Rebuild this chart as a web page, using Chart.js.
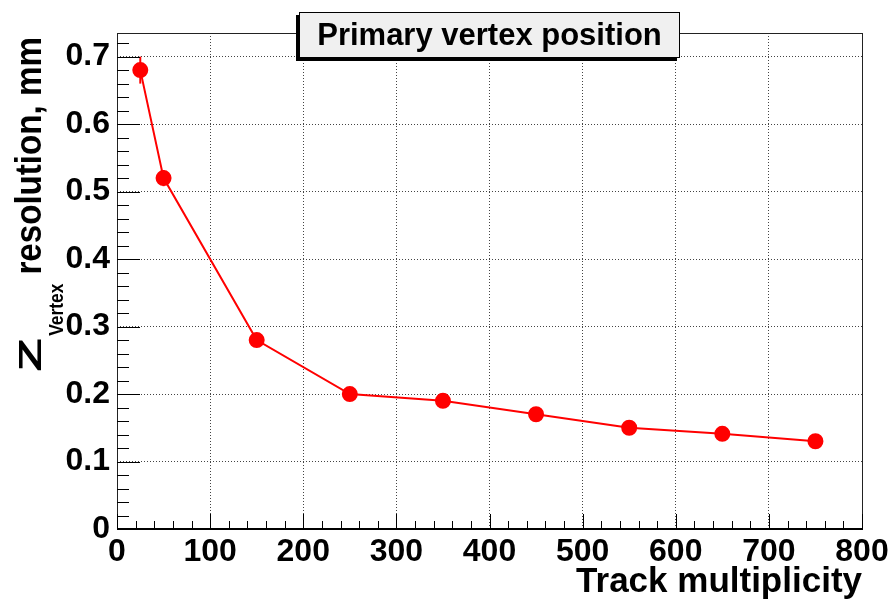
<!DOCTYPE html>
<html>
<head>
<meta charset="utf-8">
<script src="https://cdn.jsdelivr.net/npm/chart.js@4.4.1/dist/chart.umd.min.js"></script>
<style>
  html, body { margin: 0; padding: 0; background: #fff; }
  #wrap { width: 896px; height: 603px; }
</style>
</head>
<body>
<div id="wrap"><canvas id="myChart" width="896" height="603"></canvas></div>
<script>
(() => {
    'use strict'

    // Track multiplicity bins and Z vertex resolution (mm)
    const multiplicity = [25, 50, 150, 250, 350, 450, 550, 650, 750]
    const resolution = [0.68, 0.52, 0.28, 0.20, 0.19, 0.17, 0.15, 0.141, 0.13]
    const resolutionErr = [0.02, 0.012, 0.006, 0.005, 0.005, 0.005, 0.005, 0.005, 0.005]

    const xTicks = [0, 100, 200, 300, 400, 500, 600, 700, 800]
    const yTicks = [0, 0.1, 0.2, 0.3, 0.4, 0.5, 0.6, 0.7]

    const FONT = "'Liberation Sans', Arial, Helvetica, sans-serif"
    const RED = '#ff0000'

    // draws text squeezed/stretched along the baseline
    function scaledText(ctx, text, x, y, size, sx) {
        ctx.save()
        ctx.font = 'bold ' + size + 'px ' + FONT
        ctx.translate(x, y)
        ctx.scale(sx, 1)
        ctx.fillText(text, 0, 0)
        const w = ctx.measureText(text).width * sx
        ctx.restore()
        return w
    }

    // frame, inward tick marks and error bars
    const frameTicks = {
        id: 'frameTicks',
        beforeDatasetsDraw(chart) {
            const {ctx, scales: {x, y}} = chart
            ctx.save()
            ctx.strokeStyle = RED
            ctx.lineWidth = 2
            multiplicity.forEach((m, i) => {
                const px = x.getPixelForValue(m)
                ctx.beginPath()
                ctx.moveTo(px, y.getPixelForValue(resolution[i] + resolutionErr[i]))
                ctx.lineTo(px, y.getPixelForValue(resolution[i] - resolutionErr[i]))
                ctx.stroke()
            })
            ctx.restore()
        },
        afterDraw(chart) {
            const {ctx, chartArea: a, scales: {x, y}} = chart
            ctx.save()
            ctx.strokeStyle = '#222'
            ctx.lineWidth = 1
            ctx.strokeRect(a.left + 0.5, a.top + 0.5, a.right - a.left, a.bottom - a.top)

            ctx.strokeStyle = '#000'
            ctx.beginPath()
            for (let i = 0; i <= 40; i++) {
                const px = Math.round(x.getPixelForValue(i * 20)) + 0.5
                const len = i % 5 === 0 ? 15 : 8
                ctx.moveTo(px, a.bottom)
                ctx.lineTo(px, a.bottom - len)
            }
            for (let i = 0; i * 0.02 <= y.max; i++) {
                const py = Math.round(y.getPixelForValue(i * 0.02)) + 0.5
                const len = i % 5 === 0 ? 23 : 12
                ctx.moveTo(a.left, py)
                ctx.lineTo(a.left + len, py)
            }
            ctx.stroke()

            ctx.lineWidth = 2
            ctx.beginPath()
            ctx.moveTo(a.left, a.bottom)
            ctx.lineTo(a.right + 1, a.bottom)
            ctx.stroke()

            // y axis title with subscript, rotated
            ctx.translate(41, 372)
            ctx.rotate(-Math.PI / 2)
            ctx.fillStyle = '#000'
            ctx.textBaseline = 'alphabetic'
            ctx.textAlign = 'left'
            let pos = scaledText(ctx, 'Z', 0, 0, 32, 1.75)
            pos += 2
            pos += scaledText(ctx, 'Vertex', pos, 22, 20, 0.87)
            scaledText(ctx, 'resolution, mm', pos + 9, 0, 36, 0.92)
            ctx.restore()

            // title box
            ctx.save()
            const bx = 299, by = 12, bw = 381, bh = 46
            ctx.fillStyle = '#000'
            ctx.fillRect(bx - 3, by + 3, bw, bh)
            ctx.fillStyle = '#f0f0f0'
            ctx.fillRect(bx, by, bw, bh)
            ctx.strokeStyle = '#000'
            ctx.lineWidth = 1
            ctx.strokeRect(bx + 0.5, by + 0.5, bw - 1, bh - 1)
            ctx.fillStyle = '#000'
            ctx.font = 'bold 31px ' + FONT
            ctx.textAlign = 'center'
            ctx.textBaseline = 'middle'
            ctx.fillText('Primary vertex position', bx + bw / 2, by + bh / 2 + 1)
            ctx.restore()
        }
    }

    const tickFont = {family: FONT, size: 32, weight: 'bold'}

    const ctx = document.getElementById('myChart')
    new Chart(ctx, {
        type: 'scatter',
        data: {
            datasets: [{
                data: multiplicity.map((m, i) => ({x: m, y: resolution[i]})),
                showLine: true,
                tension: 0,
                borderColor: RED,
                borderWidth: 2,
                backgroundColor: RED,
                pointBackgroundColor: RED,
                pointBorderColor: RED,
                pointRadius: 7,
                pointHoverRadius: 7
            }]
        },
        options: {
            responsive: false,
            animation: false,
            events: [],
            layout: {padding: {top: 33, right: 34, left: 0, bottom: 0}},
            plugins: {
                legend: {display: false},
                tooltip: {enabled: false}
            },
            scales: {
                x: {
                    type: 'linear',
                    min: xTicks[0],
                    max: xTicks[xTicks.length - 1],
                    afterBuildTicks(scale) {
                        scale.ticks = xTicks.map(v => ({value: v}))
                    },
                    afterFit(scale) { scale.height = 74 },
                    ticks: {
                        font: tickFont,
                        color: '#000',
                        padding: 4,
                        autoSkip: false,
                        maxRotation: 0
                    },
                    grid: {color: '#444', lineWidth: 1, drawTicks: false},
                    border: {display: false, dash: [1, 2]},
                    title: {
                        display: true,
                        text: 'Track multiplicity',
                        align: 'end',
                        color: '#000',
                        font: {family: FONT, size: 35, weight: 'bold'},
                        padding: {top: 0, bottom: 0}
                    }
                },
                y: {
                    type: 'linear',
                    min: 0,
                    max: 0.735,
                    afterBuildTicks(scale) {
                        scale.ticks = yTicks.map(v => ({value: v}))
                    },
                    afterFit(scale) { scale.width = 117 },
                    ticks: {
                        font: tickFont,
                        color: '#000',
                        padding: 7,
                        autoSkip: false,
                        callback: v => String(+v.toFixed(1))
                    },
                    grid: {color: '#444', lineWidth: 1, drawTicks: false},
                    border: {display: false, dash: [1, 2]}
                }
            }
        },
        plugins: [frameTicks]
    })
})()
</script>
</body>
</html>
